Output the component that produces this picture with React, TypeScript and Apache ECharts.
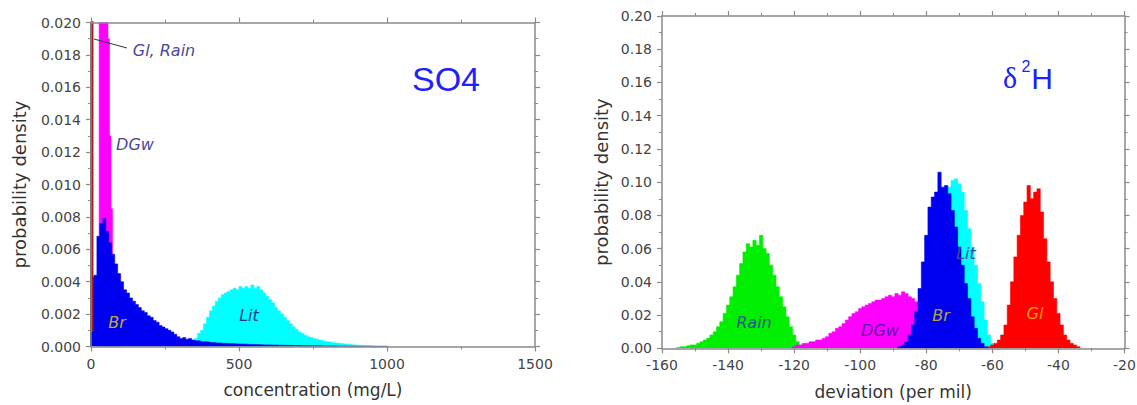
import React, { useEffect, useRef } from "react";
import * as echarts from "echarts";

// ---------- data (probability densities) ----------
// Left panel: SO4 concentration (mg/L), bin centres start + i*step
const so4BrStart = 5;
const so4BrStep = 10;
const so4BrValues = [
  0.0043, 0.0044, 0.0068, 0.0076, 0.0079, 0.0071, 0.0064, 0.0057, 0.0051, 0.0045,
  0.004, 0.0035, 0.0033, 0.003, 0.0028, 0.0026, 0.0024, 0.0022, 0.0021, 0.0019,
  0.0018, 0.0016, 0.0015, 0.0013, 0.0012, 0.0011, 0.001, 0.0009, 0.00075, 0.0006,
  0.0005, 0.00055, 0.00045, 0.0005, 0.0004, 0.00035, 0.00035, 0.0003, 0.0003, 0.00028,
  0.00025, 0.00025, 0.00022, 0.00022, 0.0002, 0.0002, 0.00018, 0.00018, 0.00017, 0.00016,
  0.00015, 0.00015, 0.00014, 0.00013, 0.00013, 0.00012, 0.00012, 0.00011, 0.0001, 0.0001,
  0.0001, 0.00009, 0.00009, 0.00008, 0.00008, 0.00007, 0.00007, 0.00007, 0.00006, 0.00006,
  0.00006, 0.00005, 0.00005, 0.00005, 0.00004, 0.00004, 0.00004, 0.00004, 0.00003, 0.00003,
  0.00003, 0.00003, 0.00003, 0.00002, 0.00002, 0.00002, 0.00002, 0.00002, 0.00002, 0.00001,
  0.00001, 0.00001, 0.00001, 0.00001, 0.00001, 0.00001, 0.00001, 0.00001, 0.00001, 0.00001,
];
const so4DgwStart = 30;
const so4DgwStep = 5;
const so4DgwValues = [
  0.03, 0.045, 0.055, 0.05, 0.04, 0.028, 0.019, 0.013, 0.0085, 0.005, 0.0035, 0.0025,
  0.0015, 0.001, 0.0005,
];
const so4LitStart = 345;
const so4LitStep = 10;
const so4LitValues = [
  0.0002, 0.0005, 0.0008, 0.001, 0.0014, 0.0018, 0.0022, 0.0025, 0.0028, 0.003,
  0.0032, 0.0033, 0.0034, 0.0035, 0.0036, 0.0035, 0.0037, 0.0036, 0.0037, 0.0036,
  0.0038, 0.0036, 0.0037, 0.0035, 0.0033, 0.0031, 0.0029, 0.0027, 0.0024, 0.0022,
  0.002, 0.0018, 0.0016, 0.0014, 0.0012, 0.00105, 0.0009, 0.0008, 0.0007, 0.0006,
  0.00055, 0.0005, 0.00045, 0.0004, 0.00035, 0.0003, 0.00028, 0.00025, 0.00022, 0.0002,
  0.00018, 0.00015, 0.00013, 0.00012, 0.0001, 0.0001, 0.00008, 0.00007, 0.00006, 0.00005,
  0.00004, 0.00003, 0.00002, 0.00002, 0.00001, 0.00001,
];
// Gl and Rain: very narrow spikes at ~0 mg/L
const so4GlX = [4, 4];
const so4GlY = [0.0009, 0.06];
const so4RainX = [0, 0];
const so4RainY = [0, 0.06];

// Right panel: delta 2H deviation (per mil), 1 per mil bins
const d2hStep = 1;
const d2hRainStart = -155;
const d2hRainValues = [
  0.0005, 0.001, 0.001, 0.0015, 0.002, 0.002, 0.003, 0.004, 0.005, 0.006,
  0.008, 0.01, 0.013, 0.016, 0.021, 0.026, 0.031, 0.037, 0.044, 0.051,
  0.058, 0.063, 0.061, 0.065, 0.062, 0.068, 0.06, 0.057, 0.05, 0.044,
  0.037, 0.031, 0.025, 0.019, 0.013, 0.008, 0.004, 0.002, 0.001,
];
const d2hDgwStart = -120;
const d2hDgwValues = [
  0.001, 0.002, 0.002, 0.003, 0.003, 0.004, 0.004, 0.005, 0.005, 0.006,
  0.007, 0.009, 0.01, 0.012, 0.013, 0.015, 0.017, 0.019, 0.021, 0.022,
  0.024, 0.025, 0.026, 0.027, 0.028, 0.029, 0.029, 0.03, 0.031, 0.032,
  0.031, 0.033, 0.032, 0.034, 0.033, 0.031, 0.03, 0.028, 0.025, 0.021,
  0.018, 0.015, 0.012, 0.01, 0.008, 0.007, 0.006, 0.005, 0.005, 0.004,
  0.004, 0.003, 0.003, 0.003, 0.002, 0.002, 0.002, 0.002, 0.001, 0.001,
  0.001,
];
const d2hLitStart = -82;
const d2hLitValues = [
  0.002, 0.005, 0.01, 0.02, 0.035, 0.05, 0.065, 0.08, 0.092, 0.097,
  0.101, 0.102, 0.099, 0.094, 0.083, 0.072, 0.061, 0.05, 0.039, 0.028,
  0.017, 0.008, 0.003, 0.001, 0.0005,
];
const d2hBrStart = -88;
const d2hBrValues = [
  0.001, 0.002, 0.004, 0.008, 0.014, 0.022, 0.036, 0.052, 0.068, 0.085,
  0.091, 0.094, 0.106, 0.097, 0.098, 0.093, 0.083, 0.073, 0.061, 0.05,
  0.039, 0.03, 0.019, 0.012, 0.006, 0.003, 0.001,
];
const d2hGlStart = -61;
const d2hGlValues = [
  0.001, 0.002, 0.003, 0.005, 0.008, 0.014, 0.026, 0.04, 0.055, 0.068,
  0.08, 0.088, 0.098, 0.09, 0.094, 0.096, 0.082, 0.066, 0.052, 0.04,
  0.03, 0.021, 0.014, 0.008, 0.005, 0.003, 0.002, 0.001,
];

// axis ticks
const so4XTicks = { min: 0, max: 1500, interval: 500 };
const so4YTicks = { min: 0, max: 0.02, interval: 0.002 };
const d2hXTicks = { min: -160, max: -20, interval: 20 };
const d2hYTicks = { min: 0, max: 0.2, interval: 0.02 };

// ---------- helpers ----------
const bins = (start: number, step: number, vals: number[]) => {
  const pts: number[][] = [[start - step, 0]];
  vals.forEach((v, i) => pts.push([start + i * step, v]));
  pts.push([start + vals.length * step, 0]);
  return pts;
};
const pairs = (xs: number[], ys: number[]) => xs.map((x, i) => [x, ys[i]]);

const FONT = "DejaVu Sans";
const FRAME = "#8a8a8a";

const hist = (name: string, color: string, data: number[][], gi: number, z: number) => ({
  name,
  type: "line",
  step: "middle",
  xAxisIndex: gi * 2,
  yAxisIndex: gi * 2,
  symbol: "none",
  z,
  data,
  lineStyle: { width: 0.6, color },
  itemStyle: { color },
  areaStyle: { color, opacity: 1 },
  silent: true,
});

const spike = (name: string, color: string, data: number[][], width: number, z: number) => ({
  name,
  type: "line",
  xAxisIndex: 0,
  yAxisIndex: 0,
  symbol: "none",
  z,
  data,
  lineStyle: { width, color },
  silent: true,
});

const axisCommon = {
  type: "value",
  splitLine: { show: false },
  axisLine: { show: true, onZero: false, lineStyle: { color: FRAME, width: 1.5 } },
  axisTick: { show: true, length: 5, lineStyle: { color: FRAME, width: 1.2 } },
  minorTick: { show: true, splitNumber: 2, length: 3, lineStyle: { color: FRAME, width: 1 } },
  z: 20,
};
const labelStyle = { fontFamily: FONT, fontSize: 14, color: "#444", margin: 10 };
const nameStyle = { fontFamily: FONT, fontSize: 18, color: "#333" };
const xNameStyle = { fontFamily: FONT, fontSize: 17, color: "#333" };

const mkX = (gi: number, t: any, name: string) => [
  {
    ...axisCommon,
    gridIndex: gi,
    position: "bottom",
    ...t,
    axisLabel: { ...labelStyle, formatter: (v: number) => String(v) },
    name,
    nameLocation: "middle",
    nameGap: 35,
    nameTextStyle: xNameStyle,
  },
  {
    ...axisCommon,
    gridIndex: gi,
    position: "top",
    ...t,
    axisLabel: { show: false },
  },
];
const mkY = (gi: number, t: any, digits: number, gap: number) => [
  {
    ...axisCommon,
    gridIndex: gi,
    position: "left",
    ...t,
    axisLabel: { ...labelStyle, formatter: (v: number) => v.toFixed(digits) },
    name: "probability density",
    nameLocation: "middle",
    nameGap: gap,
    nameTextStyle: nameStyle,
  },
  {
    ...axisCommon,
    gridIndex: gi,
    position: "right",
    ...t,
    axisLabel: { show: false },
  },
];

const txt = (x: number, y: number, text: string, fill: string, size = 16, italic = true, family = FONT) => ({
  type: "text",
  x,
  y,
  silent: true,
  z: 100,
  style: {
    text,
    fill,
    fontSize: size,
    fontFamily: family,
    fontStyle: italic ? "italic" : "normal",
    align: "center",
    verticalAlign: "middle",
  },
});

export default function App() {
  const ref = useRef<HTMLDivElement>(null);
  useEffect(() => {
    document.body.style.margin = "0";
    if (!ref.current) return;
    const chart = echarts.init(ref.current, undefined, { renderer: "svg" });
    const so4Lit = bins(so4LitStart, so4LitStep, so4LitValues);
    const so4Dgw = bins(so4DgwStart, so4DgwStep, so4DgwValues);
    const so4Br = bins(so4BrStart, so4BrStep, so4BrValues);
    chart.setOption({
      animation: false,
      backgroundColor: "#ffffff",
      grid: [
        { left: 91, right: 602, top: 22.5, bottom: 58.5, outerBoundsMode: "none", containLabel: false },
        { left: 662, right: 12.5, top: 16, bottom: 56.7, outerBoundsMode: "none", containLabel: false },
      ],
      xAxis: [
        ...mkX(0, so4XTicks, "concentration (mg/L)"),
        ...mkX(1, d2hXTicks, "deviation (per mil)"),
      ],
      yAxis: [...mkY(0, so4YTicks, 3, 63), ...mkY(1, d2hYTicks, 2, 52)],
      series: [
        hist("Lit", "#00ffff", so4Lit, 0, 2),
        hist("DGw", "#ff00ff", so4Dgw, 0, 3),
        hist("Br", "#0000f0", so4Br, 0, 4),
        spike("Rain", "#111111", pairs(so4RainX, so4RainY), 1.5, 5),
        spike("Gl", "#b01818", pairs(so4GlX, so4GlY), 2.5, 6),
        hist("Rain", "#00ee00", bins(d2hRainStart, d2hStep, d2hRainValues), 1, 2),
        hist("DGw", "#ff00ff", bins(d2hDgwStart, d2hStep, d2hDgwValues), 1, 3),
        hist("Lit", "#00ffff", bins(d2hLitStart, d2hStep, d2hLitValues), 1, 4),
        hist("Br", "#0000f0", bins(d2hBrStart, d2hStep, d2hBrValues), 1, 5),
        hist("Gl", "#ff0000", bins(d2hGlStart, d2hStep, d2hGlValues), 1, 6),
      ],
      graphic: [
        {
          type: "line",
          silent: true,
          z: 100,
          shape: { x1: 94, y1: 39, x2: 127, y2: 48 },
          style: { stroke: "#333", lineWidth: 1 },
        },
        txt(164, 50, "Gl, Rain", "#4848a0"),
        txt(135, 144, "DGw", "#4848a0"),
        txt(117, 322, "Br", "#c8a830"),
        txt(249, 315, "Lit", "#1e3c8c"),
        txt(446, 79, "SO4", "#2020ff", 34, false, "Liberation Sans"),
        txt(1010, 77, "δ", "#2020ff", 30, false, "Liberation Serif"),
        txt(1026, 66, "2", "#2020ff", 16, false, "Liberation Sans"),
        txt(1042, 78, "H", "#2020ff", 30, false, "Liberation Sans"),
        txt(754, 322, "Rain", "#205a80"),
        txt(880, 330, "DGw", "#5a1aa0"),
        txt(941, 315, "Br", "#b8a040"),
        txt(966, 253, "Lit", "#3a4a9a"),
        txt(1035, 313, "Gl", "#ff9900"),
      ],
    });
    return () => chart.dispose();
  }, []);
  return <div ref={ref} style={{ width: 1137, height: 405 }} />;
}
